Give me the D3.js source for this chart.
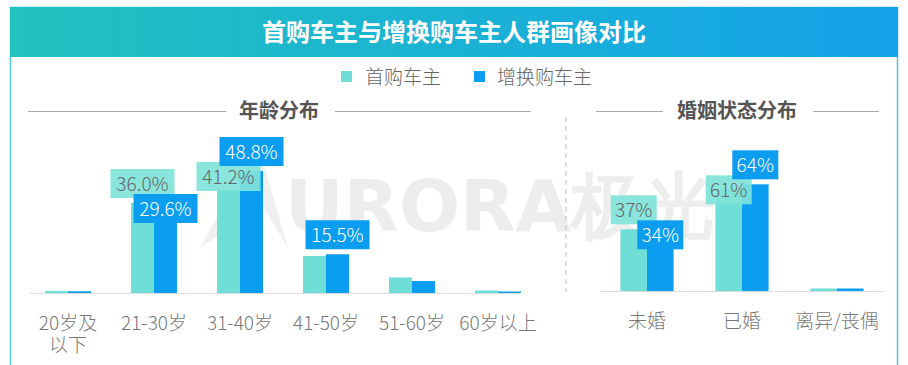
<!DOCTYPE html>
<meta charset="utf-8">
<html>
<body style="margin:0;background:#fff">
<div id="chart"></div>
<script src="https://d3js.org/d3.v7.min.js"></script>
<script>
  // data
  var seriesNames = ["首购车主", "增换购车主"];
  var ageCats = ["20岁及\n以下", "21-30岁", "31-40岁", "41-50岁", "51-60岁", "60岁以上"];
  var ageFirst = [0.8, 36.0, 41.2, 14.8, 6.2, 1.0];
  var ageRepeat = [0.7, 29.6, 48.8, 15.5, 4.8, 0.6];
  // which values carry a printed label
  var ageFirstLabel = [false, true, true, false, false, false];
  var ageRepeatLabel = [false, true, true, true, false, false];
  var marCats = ["未婚", "已婚", "离异/丧偶"];
  var marFirst = [37, 61, 1.5];
  var marRepeat = [34, 64, 1.5];
  var marFirstLabel = [true, true, false];
  var marRepeatLabel = [true, true, false];

  var W = 908, H = 365;
  var cLight = "#6fded6", cLightBox = "#80e3da", cDark = "#0a9df0";
  var font = "'Noto Sans CJK SC', 'Noto Sans', sans-serif";

  var svg = d3.select("#chart").append("svg").attr("width", W).attr("height", H)
    .style("font-family", font);

  // header bar gradient
  var grad = svg.append("defs").append("linearGradient").attr("id", "hdr")
    .attr("x1", "0%").attr("x2", "100%");
  grad.append("stop").attr("offset", "0%").attr("stop-color", "#22c2bf");
  grad.append("stop").attr("offset", "100%").attr("stop-color", "#14a2ea");

  // panel frame
  svg.append("path").attr("d", "M10.5," + H + "V7.5H897.5V" + H)
    .attr("fill", "none").attr("stroke", "#59bfd8").attr("stroke-width", 1.5);
  svg.append("rect").attr("x", 10).attr("y", 7).attr("width", 888).attr("height", 50)
    .attr("fill", "url(#hdr)");
  svg.append("text").attr("x", 454).attr("y", 41).attr("text-anchor", "middle")
    .attr("fill", "#fff").style("font-size", "24px").style("font-weight", "bold")
    .text("首购车主与增换购车主人群画像对比");

  // faint watermark
  svg.append("path").attr("d", "M200,248 L258,145 L288,248 L262,205 Z")
    .attr("fill", "#e4e4e4").attr("opacity", 0.6);
  svg.append("text").attr("x", 285).attr("y", 231).attr("fill", "#e2e2e2").attr("opacity", 0.6)
    .style("font-size", "72px").style("font-weight", "bold").style("font-family", "'DejaVu Sans', sans-serif")
    .text("URORA极光");

  // legend
  var legRect = [341, 474], legText = [365, 497];
  seriesNames.forEach(function (n, i) {
    svg.append("rect").attr("x", legRect[i]).attr("y", 71).attr("width", 11).attr("height", 11)
      .attr("fill", i ? cDark : cLight);
    svg.append("text").attr("x", legText[i]).attr("y", 84).attr("fill", "#666")
      .style("font-size", "19px").style("font-weight", "300").text(n);
  });

  // section titles with side rules
  function sectionTitle(txt, cx, l0, l1, r0, r1) {
    svg.append("text").attr("x", cx).attr("y", 118).attr("text-anchor", "middle")
      .attr("fill", "#555").style("font-size", "20px").style("font-weight", "bold").text(txt);
    svg.append("line").attr("x1", l0).attr("x2", l1).attr("y1", 111.5).attr("y2", 111.5).attr("stroke", "#aaa");
    svg.append("line").attr("x1", r0).attr("x2", r1).attr("y1", 111.5).attr("y2", 111.5).attr("stroke", "#aaa");
  }
  sectionTitle("年龄分布", 279, 28, 226, 335, 531);
  sectionTitle("婚姻状态分布", 737, 596, 663, 813, 879);

  svg.append("line").attr("x1", 566).attr("x2", 566).attr("y1", 117).attr("y2", 292)
    .attr("stroke", "#bbb").attr("stroke-dasharray", "5,4");

  function barGroup(cats, first, repeat, fLab, rLab, opt) {
    var x = d3.scaleBand().domain(cats).range([opt.x0, opt.x1]).paddingInner(opt.pad).paddingOuter(opt.pad / 2);
    var sub = d3.scaleBand().domain([0, 1]).range([0, x.bandwidth()]);
    var y = d3.scaleLinear().domain([0, 100]).range([opt.base, opt.base - opt.pxPer100]);
    var g = svg.append("g");

    g.append("line").attr("x1", opt.ax0).attr("x2", opt.ax1).attr("y1", opt.base + 0.5).attr("y2", opt.base + 0.5)
      .attr("stroke", "#ddd");

    var vals = [first, repeat], labs = [fLab, rLab];
    [0, 1].forEach(function (s) {
      g.selectAll(null).data(cats).enter().append("rect")
        .attr("x", function (c) { return x(c) + sub(s); })
        .attr("width", sub.bandwidth())
        .attr("y", function (c, i) { return y(vals[s][i]); })
        .attr("height", function (c, i) { return opt.base - y(vals[s][i]); })
        .attr("fill", s ? cDark : cLight);
    });

    // labels: higher value sits above its bar, the other is pushed below it on overlap
    var bh = 29, gap = 5;
    cats.forEach(function (c, i) {
      var items = [0, 1].filter(function (s) { return labs[s][i]; })
        .map(function (s) { return { s: s, v: vals[s][i] }; })
        .sort(function (a, b) { return b.v - a.v; });
      var placed = [];
      items.forEach(function (it) {
        var cx = x(c) + sub(it.s) + sub.bandwidth() / 2;
        var bw = opt.boxW;
        var top = y(it.v) - gap - bh;
        placed.forEach(function (p) {
          if (Math.abs(p.cx - cx) < (p.bw + bw) / 2 && top < p.top + bh && top + bh > p.top)
            top = Math.max(top, p.top + bh - 4);
        });
        placed.push({ cx: cx, bw: bw, top: top, s: it.s, txt: opt.fmt(it.v) });
      });
      // lighter series first so the blue box stays on top
      placed.sort(function (a, b) { return a.s - b.s; }).forEach(function (p) {
        g.append("rect").attr("x", p.cx - p.bw / 2).attr("y", p.top).attr("width", p.bw).attr("height", bh)
          .attr("fill", p.s ? cDark : cLightBox).attr("opacity", p.s ? 1 : 0.92);
        g.append("text").attr("x", p.cx).attr("y", p.top + 22).attr("text-anchor", "middle")
          .attr("fill", p.s ? "#fff" : "#666").style("font-size", "19px").style("font-weight", "300").text(p.txt);
      });
    });

    // category labels
    cats.forEach(function (c) {
      var cx = x(c) + x.bandwidth() / 2;
      var t = g.append("text").attr("x", cx).attr("y", opt.base + 37)
        .attr("text-anchor", "middle").attr("fill", "#777")
        .style("font-size", "19px").style("font-weight", "300");
      c.split("\n").forEach(function (l, k) {
        t.append("tspan").attr("x", cx).attr("dy", k ? 22 : 0).text(l);
      });
    });
  }

  barGroup(ageCats, ageFirst, ageRepeat, ageFirstLabel, ageRepeatLabel, {
    x0: 25, x1: 541, pad: 0.465, base: 293, pxPer100: 250, ax0: 30, ax1: 520, boxW: 64,
    fmt: function (v) { return v.toFixed(1) + "%"; }
  });
  barGroup(marCats, marFirst, marRepeat, marFirstLabel, marRepeatLabel, {
    x0: 599.5, x1: 884.5, pad: 0.44, base: 291, pxPer100: 166.7, ax0: 600, ax1: 883, boxW: 46,
    fmt: function (v) { return Math.round(v) + "%"; }
  });
</script>
</body>
</html>
